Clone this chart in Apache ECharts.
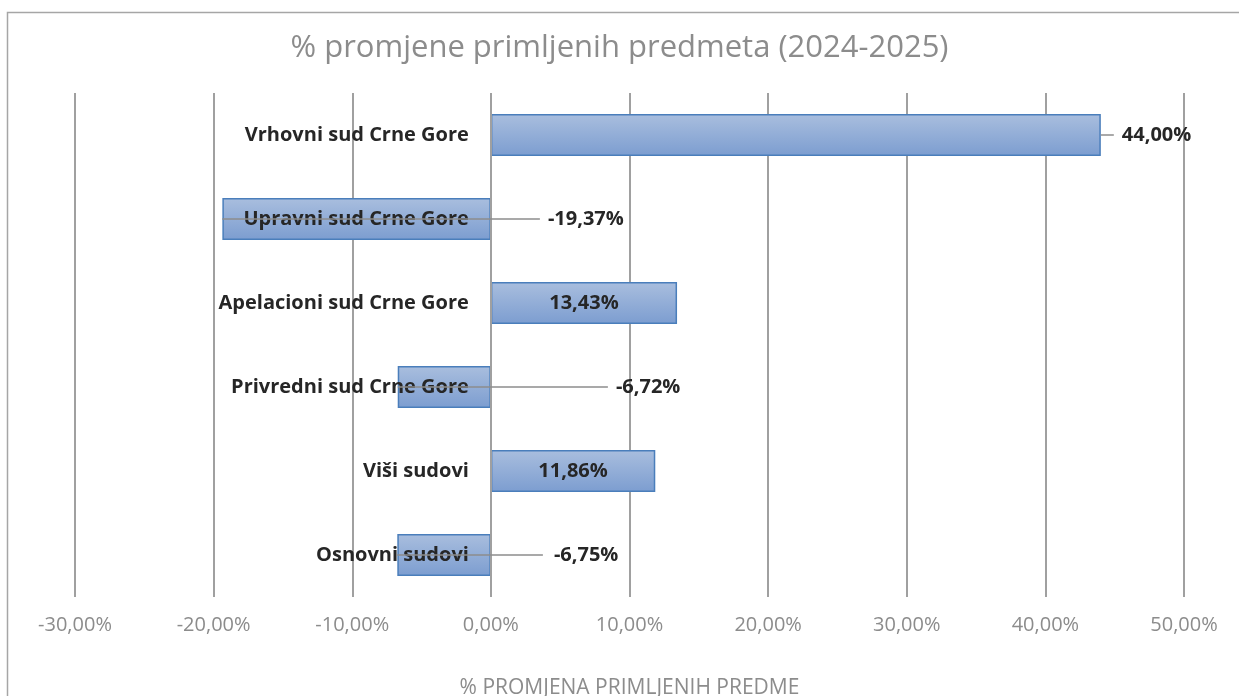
<!DOCTYPE html>
<html>
<head>
<meta charset="utf-8">
<script src="https://cdn.jsdelivr.net/npm/echarts@6/dist/echarts.min.js"></script>
<style>
html,body{margin:0;padding:0;background:#fff;}
#chart{width:1239px;height:696px;}
</style>
</head>
<body>
<div id="chart"></div>
<script>
// ---- data ----
var categories = ['Vrhovni sud Crne Gore', 'Upravni sud Crne Gore', 'Apelacioni sud Crne Gore', 'Privredni sud Crne Gore', 'Viši sudovi', 'Osnovni sudovi'];
var values = [44.00, -19.37, 13.43, -6.72, 11.86, -6.75];
var titleText = '% promjene primljenih predmeta (2024-2025)';
var xAxisName = '% PROMJENA PRIMLJENIH PREDME';
var xMin = -30, xMax = 50, xStep = 10;

// ---- label placement (layout only) ----
var labelPlacement = [
  {mode: 'leader', lineLen: 13, textGap: 21},
  {mode: 'leaderZero', lineEnd: 49, textX: 57},
  {mode: 'center'},
  {mode: 'leaderZero', lineEnd: 117, textX: 125},
  {mode: 'center'},
  {mode: 'leaderZero', lineEnd: 52, textX: 63}
];

function fmt(v) { return v.toFixed(2).replace('.', ',') + '%'; }

var chart = echarts.init(document.getElementById('chart'), null, {renderer: 'canvas'});
var labelFont = 'bold 20px "Open Sans"';
var textColor = '#262626';
var gray = '#8c8c8c';
var lineGray = '#a0a0a0';

var option = {
  backgroundColor: '#ffffff',
  animation: false,
  title: {
    text: titleText,
    left: 'center',
    top: 28,
    textStyle: {fontFamily: 'Open Sans', fontSize: 31, fontWeight: 'normal', color: gray}
  },
  graphic: [{
    type: 'rect',
    shape: {x: 7.5, y: 12.5, width: 1300, height: 800},
    style: {fill: 'none', stroke: '#a6a6a6', lineWidth: 1.5},
    silent: true, z: 0
  }],
  grid: {left: 75, right: 55, top: 93, bottom: 99, containLabel: false, outerBoundsMode: 'none'},
  xAxis: {
    type: 'value',
    min: xMin, max: xMax, interval: xStep,
    axisLine: {show: false},
    axisTick: {show: false},
    splitLine: {show: true, lineStyle: {color: lineGray, width: 2}},
    axisLabel: {
      formatter: function (v) { return fmt(v); },
      color: gray, fontFamily: 'Open Sans', fontSize: 20, margin: 18
    },
    name: xAxisName,
    nameLocation: 'middle',
    nameGap: 81,
    nameTextStyle: {color: gray, fontFamily: 'Open Sans', fontSize: 21}
  },
  yAxis: {
    type: 'category',
    data: categories,
    inverse: true,
    axisLine: {show: false},
    axisTick: {show: false},
    splitLine: {show: false},
    axisLabel: {show: false}
  },
  series: [{
    type: 'bar',
    data: values,
    barWidth: 42,
    z: 2,
    itemStyle: {
      color: new echarts.graphic.LinearGradient(0, 0, 0, 1, [
        {offset: 0, color: '#a9bede'},
        {offset: 1, color: '#7c9dd0'}
      ]),
      borderColor: '#4a7ebb',
      borderWidth: 1.5
    },
    markLine: {
      silent: true,
      symbol: 'none',
      label: {show: false},
      lineStyle: {color: lineGray, width: 2, type: 'solid'},
      data: [{xAxis: 0}],
      z: 4
    }
  }, {
    type: 'custom',
    z: 10,
    clip: false,
    data: values.map(function (v, i) { return [v, i]; }),
    encode: {x: 0, y: 1},
    renderItem: function (params, api) {
      var i = params.dataIndex;
      var v = api.value(0);
      var end = api.coord([v, i]);
      var zero = api.coord([0, i]);
      var p = labelPlacement[i];
      var y = end[1];
      var children = [];
      // category label, right-aligned against the zero line
      children.push({type: 'text', z2: 1, style: {text: categories[i], x: zero[0] - 22, y: y,
        textAlign: 'right', textVerticalAlign: 'middle', font: labelFont, fill: textColor}});
      if (p.mode === 'leader') {
        children.push({type: 'line', shape: {x1: end[0], y1: y, x2: end[0] + p.lineLen, y2: y},
          style: {stroke: gray, lineWidth: 1.5}});
        children.push({type: 'text', style: {text: fmt(v), x: end[0] + p.textGap, y: y,
          textAlign: 'left', textVerticalAlign: 'middle', font: labelFont, fill: textColor}});
      } else if (p.mode === 'leaderZero') {
        children.push({type: 'line', z2: 2, shape: {x1: end[0], y1: y, x2: zero[0] + p.lineEnd, y2: y},
          style: {stroke: gray, lineWidth: 1.5}});
        children.push({type: 'text', style: {text: fmt(v), x: zero[0] + p.textX, y: y,
          textAlign: 'left', textVerticalAlign: 'middle', font: labelFont, fill: textColor}});
      } else {
        children.push({type: 'text', style: {text: fmt(v), x: (end[0] + zero[0]) / 2, y: y,
          textAlign: 'center', textVerticalAlign: 'middle', font: labelFont, fill: textColor}});
      }
      return {type: 'group', children: children};
    }
  }]
};
chart.setOption(option);
</script>
</body>
</html>
